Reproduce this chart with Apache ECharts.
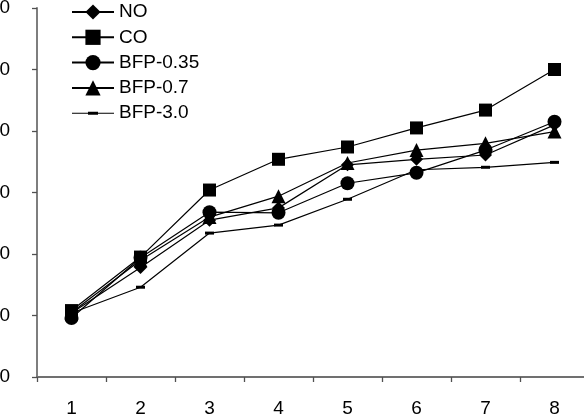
<!DOCTYPE html>
<html>
<head>
<meta charset="utf-8">
<script src="https://cdn.jsdelivr.net/npm/echarts@6/dist/echarts.min.js"></script>
<style>
  html, body { margin: 0; padding: 0; background: #fff; }
  #chart { width: 584px; height: 415px; }
</style>
</head>
<body>
<div id="chart"></div>
<script>
// data
var categories = ['1', '2', '3', '4', '5', '6', '7', '8']
var seriesNames = ['NO', 'CO', 'BFP-0.35', 'BFP-0.7', 'BFP-3.0']
var dataNO = [10.4, 17.8, 25.5, 27.5, 34.5, 35.4, 36.1, 41.0]
var dataCO = [10.8, 19.5, 30.4, 35.4, 37.4, 40.5, 43.4, 50.0]
var dataBFP035 = [9.6, 19.4, 26.8, 26.7, 31.5, 33.2, 36.9, 41.5]
var dataBFP07 = [10.5, 19.0, 26.0, 29.4, 34.8, 36.9, 38.0, 39.9]
var dataBFP30 = [10.4, 14.6, 23.4, 24.7, 28.9, 33.7, 34.1, 34.9]
var yTicks = [0, 10, 20, 30, 40, 50, 60]

var chart = echarts.init(document.getElementById('chart'))

// one line series, black everywhere
var makeSeries = function (name, data, symbol, size) {
  return {
    name: name,
    type: 'line',
    data: data,
    symbol: symbol,
    symbolSize: size,
    showAllSymbol: true,
    itemStyle: { color: '#000', borderWidth: 0 },
    lineStyle: { color: '#000', width: 1.2 },
    emphasis: { disabled: true },
    animation: false
  }
}

// legend icon for BFP-3.0: thin line with a small dash in the middle
var dashIcon = 'path://M0,1 L42,1 L42,2 L0,2 Z M16,0 L26,0 L26,3 L16,3 Z'

var option = {
  backgroundColor: '#fff',
  textStyle: { fontFamily: 'Liberation Sans, Arial, sans-serif' },
  // the picture is cropped: labels run off the left and the axis off the right
  grid: { left: 37, top: 8, right: -5, bottom: 38, containLabel: false, outerBoundsMode: 'none' },
  legend: {
    orient: 'vertical',
    left: 71,
    top: 2.5,
    padding: 0,
    itemWidth: 42,
    itemHeight: 19,
    itemGap: 6.3,
    data: [
      { name: 'NO' },
      { name: 'CO' },
      { name: 'BFP-0.35' },
      { name: 'BFP-0.7' },
      { name: 'BFP-3.0', icon: dashIcon }
    ],
    textStyle: { color: '#000', fontSize: 19, fontFamily: 'Liberation Sans, Arial, sans-serif' },
    inactiveColor: '#000'
  },
  xAxis: {
    type: 'category',
    data: categories,
    boundaryGap: true,
    axisLine: { lineStyle: { color: '#707070', width: 1.8 } },
    axisTick: { show: true, length: 5, lineStyle: { color: '#505050', width: 1.3 } },
    axisLabel: { color: '#000', fontSize: 19, margin: 22 },
    splitLine: { show: false }
  },
  yAxis: {
    type: 'value',
    min: yTicks[0],
    max: yTicks[yTicks.length - 1],
    interval: 10,
    axisLine: { show: true, lineStyle: { color: '#707070', width: 1.8 } },
    axisTick: { show: true, length: 5, lineStyle: { color: '#505050', width: 1.3 } },
    axisLabel: { color: '#000', fontSize: 19, margin: 27 },
    splitLine: { show: false }
  },
  series: [
    makeSeries('NO', dataNO, 'diamond', 13),
    makeSeries('CO', dataCO, 'rect', 13),
    makeSeries('BFP-0.35', dataBFP035, 'circle', 14),
    makeSeries('BFP-0.7', dataBFP07, 'triangle', 14),
    makeSeries('BFP-3.0', dataBFP30, 'rect', [9, 3])
  ]
}

chart.setOption(option, true)
</script>
</body>
</html>
